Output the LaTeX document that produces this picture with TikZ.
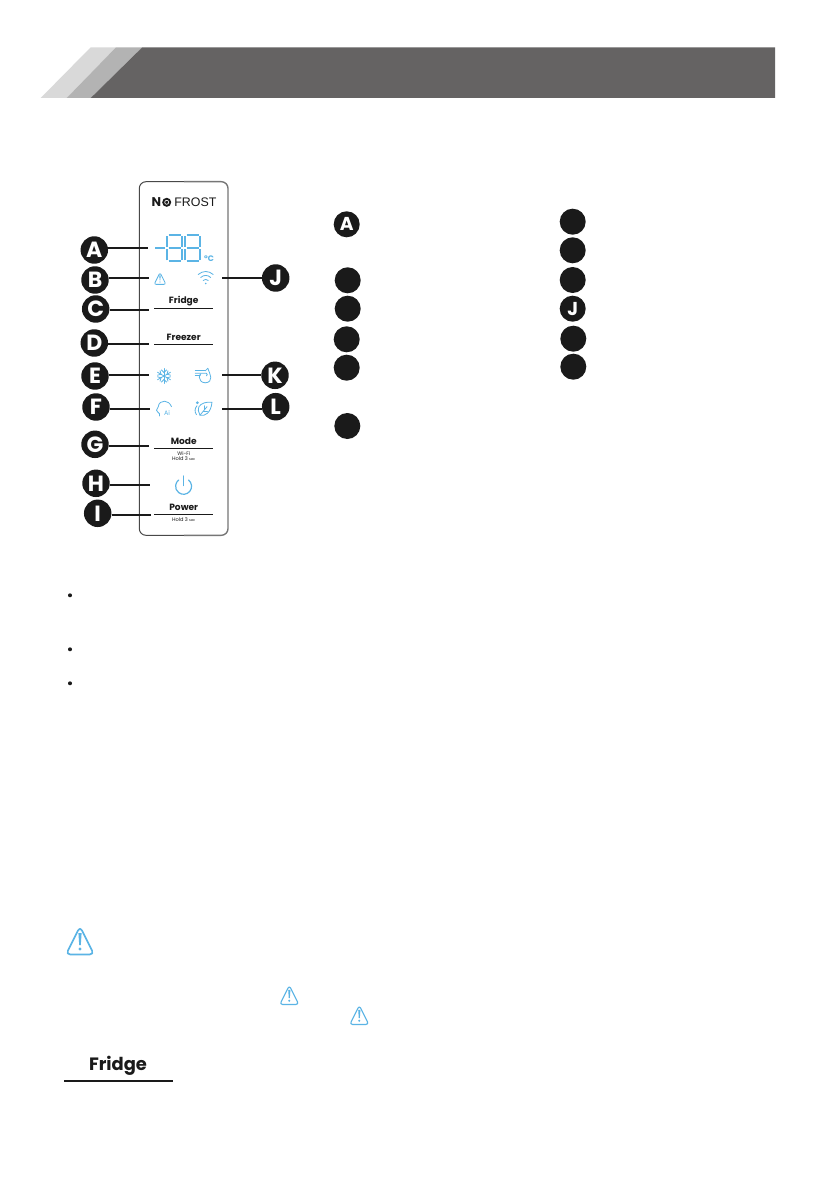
\documentclass[tikz,border=0pt]{standalone}
\usepackage{fontspec}
\setmainfont{Poppins}
\newfontfamily\arialish{Liberation Sans}
\definecolor{ink}{HTML}{1A1A1A}
\definecolor{iconblue}{HTML}{5BB4E5}
\definecolor{hdark}{HTML}{656363}
\definecolor{hmid}{HTML}{B3B3B3}
\definecolor{hlight}{HTML}{D9D9D9}
\newcommand{\fs}[1]{\fontsize{#1}{#1}\selectfont}
\tikzset{
  warnr/.store in=\warnr, warnr=3.2pt,
  warnw/.store in=\warnw, warnw=1.2pt,
  badge/.style={circle,fill=ink,inner sep=0pt,minimum size=20.6pt,text=white,font=\fs{16.5}\bfseries},
  legenddot/.style={circle,fill=ink,inner sep=0pt,minimum size=19.5pt,text=white,font=\fs{14}\bfseries},
  leader/.style={draw=ink,line width=1.25pt},
  panelrule/.style={draw=ink,line width=0.75pt},
  paneltext/.style={inner sep=0pt,font=\fs{6.8}\bfseries,text=ink},
  tinytext/.style={inner sep=0pt,font=\fs{3.8},text=ink},
  seg/.style={draw=iconblue,line width=1.4pt,line cap=butt},
  icon/.style={draw=iconblue,line width=0.6pt,line cap=round,line join=round},
  warnicon/.pic={
    \begin{scope}[x=0.75pt,y=0.75pt]
      \draw[draw=iconblue,line width=\warnw,line join=round,rounded corners=\warnr] (-14,-13.5) -- (14,-13.5) -- (0,14.5) -- cycle;
      \fill[iconblue] (-1.6,8) -- (1.6,8) -- (0.8,-4) -- (-0.8,-4) -- cycle;
      \fill[iconblue] (0,-8) circle (1.6);
    \end{scope}
  },
  eightdigit/.pic={
    \begin{scope}[x=0.75pt,y=0.75pt]
      \draw[seg] (-6,13) -- (6,13);
      \draw[seg] (-6,0) -- (6,0);
      \draw[seg] (-6,-13) -- (6,-13);
      \draw[seg] (-7.3,12) -- (-7.3,1.2);
      \draw[seg] (7.3,12) -- (7.3,1.2);
      \draw[seg] (-7.3,-12) -- (-7.3,-1.2);
      \draw[seg] (7.3,-12) -- (7.3,-1.2);
    \end{scope}
  },
  wifiicon/.pic={
    \begin{scope}[x=0.75pt,y=0.75pt]
      \draw[icon] (-7.5,3.5) .. controls (-3,7.5) and (3,7.5) .. (7.5,3.5);
      \draw[icon] (-5,0.5) .. controls (-2,3.3) and (2,3.3) .. (5,0.5);
      \draw[icon] (-2.5,-2.5) .. controls (-1,-1) and (1,-1) .. (2.5,-2.5);
      \fill[iconblue] (0,-5.5) circle (0.9);
    \end{scope}
  },
  snowicon/.pic={
    \begin{scope}[x=0.75pt,y=0.75pt]
      \foreach \a in {30,90,150,210,270,330}{
        \draw[icon,rotate=\a] (0,0) -- (7.5,0);
        \draw[icon,rotate=\a] (3.5,0) -- (6,2.5);
        \draw[icon,rotate=\a] (3.5,0) -- (6,-2.5);
      }
    \end{scope}
  },
  fanicon/.pic={
    \begin{scope}[x=0.75pt,y=0.75pt]
      \draw[icon] (2,-7.5) .. controls (-2,-7.5) and (-4,-4.5) .. (-4,-2) .. controls (-4,0) and (-3,1) .. (-2.5,1.5);
      \draw[icon] (2,-7.5) .. controls (6,-7.5) and (8,-4.5) .. (7.5,-2) .. controls (7.2,1) and (5.5,4) .. (4.5,7);
      \draw[icon] (-8,4.5) -- (2,4.5);
      \draw[icon] (-8,2) -- (3,2) .. controls (4.5,2) and (4.5,-0.5) .. (3,-0.5);
      \draw[icon] (-8,-0.5) -- (-3,-0.5);
      \draw[icon] (2,4.5) -- (4.5,7);
    \end{scope}
  },
  headicon/.pic={
    \begin{scope}[x=0.75pt,y=0.75pt]
      \draw[icon] (-4.5,-7.3) -- (-4.5,-5) .. controls (-5,-4) and (-7.5,-3) .. (-7.5,-1.5) .. controls (-7.5,0) and (-6,0.5) .. (-5.7,2) .. controls (-5.5,6) and (-2,7.5) .. (0.5,7.5) .. controls (3.5,7.5) and (6,5.5) .. (7.5,2);
      \node[inner sep=0pt,text=iconblue,font=\fs{4.8}] (headai) at (3,-4) {Ai};
    \end{scope}
  },
  leaficon/.pic={
    \begin{scope}[x=0.75pt,y=0.75pt]
      \draw[icon] (-4,-6.5) .. controls (1,-8) and (7,-4) .. (8,6.5) .. controls (2,7) and (-3,5.5) .. (-5,2) .. controls (-6,0) and (-6,-4) .. (-4,-6.5) -- cycle;
      \draw[icon] (-4,-6.5) -- (3,2);
      \draw[icon] (-0.5,-2.5) -- (3.5,-2.5);
      \draw[icon] (0.5,-1) -- (0.5,3);
      \draw[icon] (-7.5,-6) .. controls (-9.5,-3) and (-9.5,0) .. (-7,3);
      \fill[iconblue] (-6.7,6) circle (1.5);
    \end{scope}
  },
  powericon/.pic={
    \begin{scope}[x=0.75pt,y=0.75pt]
      \draw[draw=iconblue,line width=0.9pt,line cap=round] (4.8,6) arc (52:-232:8);
      \draw[draw=iconblue,line width=0.9pt,line cap=round] (0,10) -- (0,0.5);
    \end{scope}
  }
}
\begin{document}
\begin{tikzpicture}[x=0.75pt,y=-0.75pt]
\useasboundingbox (0,0) rectangle (816,1191);
\fill[white] (0,0) rectangle (816,1191);

% header band
\fill[hlight] (90.7,47.3) -- (116,47.3) -- (66.7,98) -- (40.7,98) -- cycle;
\fill[hmid] (116,47.3) -- (142.3,47.3) -- (90.7,98) -- (66.7,98) -- cycle;
\fill[hdark] (142.3,47.3) -- (775,47.3) -- (775,98) -- (90.7,98) -- cycle;

% control panel
\draw[draw=ink!80,line width=0.75pt,rounded corners=5pt] (184,181.7) -- (139.3,181.7) -- (139.3,535.3) -- (184,535.3);
\draw[draw=ink!60,line width=1.05pt,rounded corners=5pt] (184,181.7) -- (228,181.7) -- (228,535.3) -- (184,535.3);

% logo
\node[inner sep=0pt,font=\fs{9.5}\bfseries,text=ink] (logoN) at (156.3,202.3) {N};
\node[circle,fill=ink,inner sep=0pt,minimum size=6.8pt] (logoO) at (166.7,202.3) {};
\node[circle,draw=white,line width=0.5pt,inner sep=0pt,minimum size=3pt] (logoOi) at (166.7,202.3) {};
\node[inner sep=0pt,font=\arialish\fs{9.3},text=ink] (logoF) at (195.4,202.3) {FROST};

% display
\draw[draw=iconblue,line width=1.6pt] (155,248) -- (165,248);
\pic at (174.7,248.3) {eightdigit};
\pic at (192.7,248.3) {eightdigit};
\node[inner sep=0pt,font=\fs{6}\bfseries,text=iconblue] (degc) at (209,258.3) {°C};

% icons
\pic[scale=0.42,warnr=1.5pt,warnw=0.6pt] at (160,278.7) {warnicon};
\pic at (205.7,278) {wifiicon};
\pic at (164,376) {snowicon};
\pic at (203.3,375.3) {fanicon};
\pic at (164,408.7) {headicon};
\pic at (204,408.7) {leaficon};
\pic at (183.7,486) {powericon};

% panel texts and rules
\node[paneltext] (tfridge) at (183.7,300.7) {Fridge};
\draw[panelrule] (154,308) -- (213,308);
\node[paneltext] (tfreezer) at (183.7,337.3) {Freezer};
\draw[panelrule] (154,344) -- (213,344);
\node[paneltext] (tmode) at (183.7,441) {Mode};
\draw[panelrule] (154,448.3) -- (213,448.3);
\node[tinytext] (twifi) at (183.7,453.2) {Wi-Fi};
\node[tinytext] (thold1) at (183.7,458.5) {Hold 3 {\fs{2.6}sec}};
\node[paneltext] (tpower) at (183.7,507.3) {Power};
\draw[panelrule] (154,514.3) -- (213,514.3);
\node[tinytext] (thold2) at (183.7,519.7) {Hold 3 {\fs{2.6}sec}};

% leader ends
\coordinate (ea) at (148,248);
\coordinate (eb) at (149,278.3);
\coordinate (ec) at (149,309.7);
\coordinate (ed) at (149,343.7);
\coordinate (ee) at (149,374.7);
\coordinate (ef) at (150,409);
\coordinate (eg) at (149,446);
\coordinate (eh) at (150,485);
\coordinate (ei) at (151,514.7);
\coordinate (ej) at (222,278);
\coordinate (ek) at (222,374.7);
\coordinate (el) at (222,409);

% badges
\node[badge] (A) at (94.3,250) {A};
\node[badge] (B) at (95,280) {B};
\node[badge] (C) at (95.7,309) {C};
\node[badge] (D) at (94.3,343) {D};
\node[badge] (E) at (95,376) {E};
\node[badge] (F) at (96,407) {F};
\node[badge] (G) at (95,444.3) {G};
\node[badge] (H) at (96,483.3) {H};
\node[badge] (I) at (97.7,513.3) {I};
\node[badge] (J) at (275.7,278) {J};
\node[badge] (K) at (275,375.3) {K};
\node[badge] (L) at (275.7,406.7) {L};

\foreach \n/\e in {A/ea,B/eb,C/ec,D/ed,E/ee,F/ef,G/eg,H/eh,I/ei}{
  \draw[leader] (\e -| \n.east) -- (\e);
}
\foreach \n/\e in {J/ej,K/ek,L/el}{
  \draw[leader] (\e -| \n.west) -- (\e);
}

% legend
\node[legenddot] (la) at (346.7,224.3) {A};
\node[legenddot] (lb) at (347.7,280.3) {};
\node[legenddot] (lc) at (347.7,308.7) {};
\node[legenddot] (ld) at (346.7,339.3) {};
\node[legenddot] (le) at (346.7,367.7) {};
\node[legenddot] (lf) at (347.3,426) {};
\node[legenddot] (rg) at (572.7,221.7) {};
\node[legenddot] (rh) at (572.7,250.3) {};
\node[legenddot] (ri) at (572.7,280) {};
\node[legenddot] (rj) at (572.7,308.7) {J};
\node[legenddot] (rk) at (573.3,338.7) {};
\node[legenddot] (rl) at (573.3,366.7) {};

% bullets
\fill[ink] (70,595.3) circle (2);
\fill[ink] (70,649.3) circle (2);
\fill[ink] (70,683.3) circle (2);

% warning icons in text
\pic[warnr=3.2pt,warnw=1.25pt] at (80,941) {warnicon};
\pic[scale=0.68,warnr=2.2pt,warnw=0.85pt] at (289.3,995.3) {warnicon};
\pic[scale=0.68,warnr=2.2pt,warnw=0.85pt] at (359.3,1015.3) {warnicon};

% fridge key
\node[inner sep=0pt,font=\fs{13.4}\bfseries,text=ink] (bigfridge) at (118,1066) {Fridge};
\draw[draw=ink,line width=1.15pt] (64,1081) -- (173,1081);
\end{tikzpicture}
\end{document}
